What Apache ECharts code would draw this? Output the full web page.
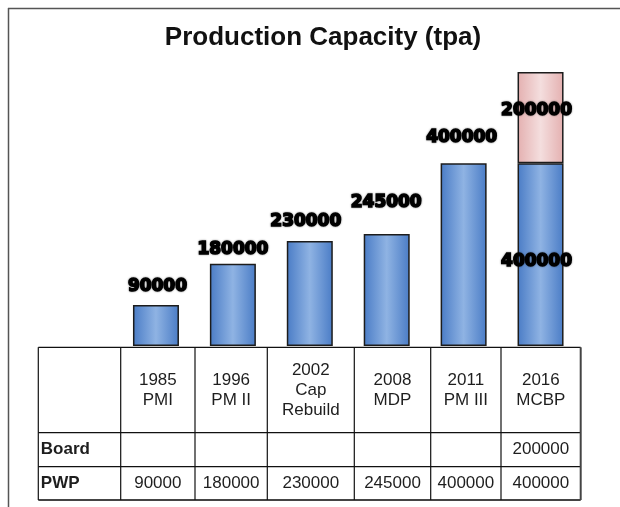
<html>
<head>
    <meta charset="utf-8">
    <title>Production Capacity</title>
    <script src="https://cdn.jsdelivr.net/npm/echarts@6/dist/echarts.min.js"></script>
    <style>
        body { margin: 0; background: #fff; }
    </style>
</head>
<body>
    <div id="main" style="width: 620px;height:507px;"></div>
    <script type="text/javascript">
        // chart data
        var categories = ['1985\nPMI', '1996\nPM II', '2002\nCap\nRebuild', '2008\nMDP', '2011\nPM III', '2016\nMCBP'];
        var seriesNames = ['Board', 'PWP'];
        var pwpValues = [90000, 180000, 230000, 245000, 400000, 400000];
        var boardValues = [null, null, null, null, null, 200000];

        // layout of the data table below the bars (pixels)
        var colEdges = [38.3, 120.7, 195, 267.3, 354.3, 430.7, 501, 580.7];
        var rowEdges = [347.3, 432.7, 466.7, 500];
        // hand-placed label nudges, [dx, dy]
        var pwpLabelOffsets = [[1.5, -5], [0, -1], [-4, -5.5], [-0.5, -18.5], [-2, -12], [-4, 7]];
        var boardLabelOffset = [-4, -7];

        var myChart = echarts.init(document.getElementById('main'));

        var labelStyle = {
            show: true,
            fontFamily: 'DejaVu Sans',
            fontWeight: 'bold',
            fontSize: 17,
            color: '#000',
            textBorderColor: '#000',
            textBorderWidth: 1.6,
            textShadowColor: 'rgba(0,0,0,0.4)',
            textShadowBlur: 2
        };

        var blueFill = new echarts.graphic.LinearGradient(0, 0, 1, 0, [
            { offset: 0, color: '#4a7cc6' },
            { offset: 0.5, color: '#8fb3e3' },
            { offset: 1, color: '#4a7cc6' }
        ]);
        var pinkFill = new echarts.graphic.LinearGradient(0, 0, 1, 0, [
            { offset: 0, color: '#e4b0b0' },
            { offset: 0.5, color: '#f4dede' },
            { offset: 1, color: '#e4b0b0' }
        ]);

        var pwpData = [];
        for (var i = 0; i < pwpValues.length; i++) {
            var last = i === pwpValues.length - 1;
            pwpData.push({
                value: pwpValues[i],
                label: {
                    position: last ? 'inside' : 'top',
                    offset: pwpLabelOffsets[i]
                }
            });
        }
        var boardData = [];
        for (var i = 0; i < boardValues.length; i++) {
            if (boardValues[i] == null) {
                boardData.push('-');
            } else {
                boardData.push({ value: boardValues[i], label: { position: 'inside', offset: boardLabelOffset } });
            }
        }

        // table drawn with graphic elements
        var txtColor = '#1e1e1e';
        var graphics = [];
        // outer frame (top and left edge)
        graphics.push({ type: 'line', shape: { x1: 8, y1: 8.5, x2: 620, y2: 8.5 }, style: { stroke: '#555', lineWidth: 1.5 } });
        graphics.push({ type: 'line', shape: { x1: 8.5, y1: 8, x2: 8.5, y2: 507 }, style: { stroke: '#555', lineWidth: 1.5 } });
        // horizontal lines
        for (var r = 0; r < rowEdges.length; r++) {
            var bottom = r === rowEdges.length - 1;
            graphics.push({
                type: 'line',
                shape: { x1: colEdges[0], y1: rowEdges[r], x2: colEdges[colEdges.length - 1], y2: rowEdges[r] },
                style: { stroke: bottom ? '#444' : '#111', lineWidth: bottom ? 2 : 1.2 }
            });
        }
        // vertical lines
        for (var c = 0; c < colEdges.length; c++) {
            var right = c === colEdges.length - 1;
            graphics.push({
                type: 'line',
                shape: { x1: colEdges[c], y1: rowEdges[0], x2: colEdges[c], y2: rowEdges[rowEdges.length - 1] },
                style: { stroke: right ? '#444' : '#111', lineWidth: right ? 2 : 1.2 }
            });
        }
        function cellText(txt, col, row, bold) {
            var x0 = colEdges[col], x1 = colEdges[col + 1];
            var y0 = rowEdges[row], y1 = rowEdges[row + 1];
            graphics.push({
                type: 'text',
                x: bold ? x0 + 2.5 : (x0 + x1) / 2,
                y: (y0 + y1) / 2,
                style: {
                    text: txt,
                    fill: txtColor,
                    font: (bold ? 'bold ' : '') + '17px "Liberation Sans", Arial, sans-serif',
                    lineHeight: 20,
                    align: bold ? 'left' : 'center',
                    verticalAlign: 'middle'
                }
            });
        }
        for (var i = 0; i < categories.length; i++) {
            cellText(categories[i], i + 1, 0, false);
            cellText(boardValues[i] == null ? '' : String(boardValues[i]), i + 1, 1, false);
            cellText(String(pwpValues[i]), i + 1, 2, false);
        }
        cellText(seriesNames[0], 0, 1, true);
        cellText(seriesNames[1], 0, 2, true);

        var option = {
            animation: false,
            title: {
                text: 'Production Capacity (tpa)',
                left: 318,
                top: 20,
                textAlign: 'center',
                textStyle: {
                    fontFamily: '"Liberation Sans", Arial, sans-serif',
                    fontWeight: 'bold',
                    fontSize: 26,
                    color: '#111'
                }
            },
            grid: {
                left: 117.5,
                right: 41,
                top: 72,
                bottom: 161
            },
            xAxis: {
                type: 'category',
                data: categories,
                axisLine: { show: false },
                axisTick: { show: false },
                axisLabel: { show: false }
            },
            yAxis: {
                type: 'value',
                min: 0,
                max: 600000,
                show: false,
                splitLine: { show: false }
            },
            series: [{
                name: seriesNames[1],
                type: 'bar',
                stack: 'cap',
                barWidth: 46,
                data: pwpData,
                itemStyle: { color: blueFill, borderColor: '#1c1c1c', borderWidth: 1.5 },
                label: labelStyle
            }, {
                name: seriesNames[0],
                type: 'bar',
                stack: 'cap',
                barWidth: 46,
                data: boardData,
                itemStyle: { color: pinkFill, borderColor: '#1c1c1c', borderWidth: 1.5 },
                label: labelStyle
            }],
            graphic: graphics
        };

        myChart.setOption(option);
    </script>
</body>
</html>
